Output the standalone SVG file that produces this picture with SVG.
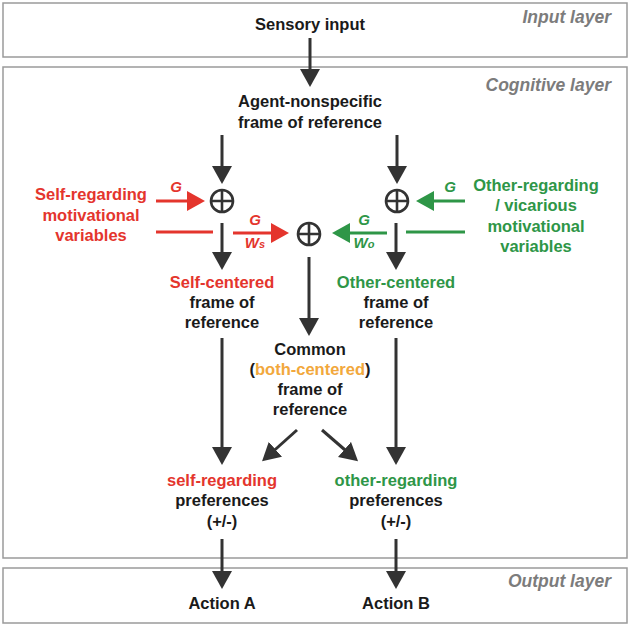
<svg xmlns="http://www.w3.org/2000/svg" width="630" height="626" viewBox="0 0 630 626">
<defs>
<style>
.layer{fill:#fff;stroke:#9a9a9a;stroke-width:1.5}
.lbl{font-family:"Liberation Sans",Arial,sans-serif;font-weight:bold;font-style:italic;font-size:17.5px;fill:#7c7c7c;text-anchor:end}
.t{font-family:"Liberation Sans",Arial,sans-serif;font-weight:bold;font-size:16.5px;fill:#1a1a1a;text-anchor:middle}
.red{fill:#e4352d}
.green{fill:#2e9647}
.orange{fill:#f2a83c}
.g{font-family:"Liberation Sans",Arial,sans-serif;font-weight:bold;font-style:italic;font-size:15px;text-anchor:middle}
.dk{stroke:#333;stroke-width:3;fill:none}
.rd{stroke:#e4352d;stroke-width:3;fill:none}
.gr{stroke:#2e9647;stroke-width:3;fill:none}
.sum{stroke:#333;stroke-width:2.6;fill:none}
</style>
<marker id="ahd" viewBox="0 0 18 20" refX="10" refY="10" markerWidth="18" markerHeight="20" markerUnits="userSpaceOnUse" orient="auto"><path d="M0,0 L18,10 L0,20 Z" fill="#333"/></marker>
<marker id="ahr" viewBox="0 0 18 20" refX="10" refY="10" markerWidth="18" markerHeight="20" markerUnits="userSpaceOnUse" orient="auto"><path d="M0,0 L18,10 L0,20 Z" fill="#e4352d"/></marker>
<marker id="ahg" viewBox="0 0 18 20" refX="10" refY="10" markerWidth="18" markerHeight="20" markerUnits="userSpaceOnUse" orient="auto"><path d="M0,0 L18,10 L0,20 Z" fill="#2e9647"/></marker>
</defs>
<rect width="630" height="626" fill="#fff"/>

<g id="layers">
<rect class="layer" x="3" y="3" width="624" height="54"/>
<rect class="layer" x="3" y="67" width="624" height="491"/>
<rect class="layer" x="3" y="568" width="624" height="55"/>
<text class="lbl" x="611" y="23">Input layer</text>
<text class="lbl" x="611" y="91">Cognitive layer</text>
<text class="lbl" x="611" y="587">Output layer</text>
</g>

<g id="connectors">
<line class="dk" x1="310" y1="38" x2="310" y2="79" marker-end="url(#ahd)"/>
<line class="dk" x1="222" y1="135" x2="222" y2="176" marker-end="url(#ahd)"/>
<line class="dk" x1="397" y1="135" x2="397" y2="176" marker-end="url(#ahd)"/>
<line class="rd" x1="156" y1="201" x2="197" y2="201" marker-end="url(#ahr)"/>
<line class="rd" x1="156" y1="232" x2="213" y2="232"/>
<line class="rd" x1="233" y1="233" x2="281" y2="233" marker-end="url(#ahr)"/>
<line class="gr" x1="465" y1="201" x2="424" y2="201" marker-end="url(#ahg)"/>
<line class="gr" x1="406" y1="232" x2="465" y2="232"/>
<line class="gr" x1="387" y1="233" x2="340" y2="233" marker-end="url(#ahg)"/>
<line class="dk" x1="222" y1="223" x2="222" y2="262" marker-end="url(#ahd)"/>
<line class="dk" x1="396" y1="223" x2="396" y2="262" marker-end="url(#ahd)"/>
<line class="dk" x1="309" y1="257" x2="309" y2="328" marker-end="url(#ahd)"/>
<line class="dk" x1="222" y1="338" x2="222" y2="457" marker-end="url(#ahd)"/>
<line class="dk" x1="396" y1="338" x2="396" y2="457" marker-end="url(#ahd)"/>
<line class="dk" x1="297" y1="430" x2="268" y2="456" marker-end="url(#ahd)"/>
<line class="dk" x1="322" y1="430" x2="352" y2="456" marker-end="url(#ahd)"/>
<line class="dk" x1="222" y1="539" x2="222" y2="581" marker-end="url(#ahd)"/>
<line class="dk" x1="396" y1="539" x2="396" y2="581" marker-end="url(#ahd)"/>
<text class="g red" x="176" y="192">G</text>
<text class="g red" x="255" y="225">G</text>
<text class="g red" x="255" y="248">W<tspan font-size="11">s</tspan></text>
<text class="g green" x="450" y="192">G</text>
<text class="g green" x="364" y="225">G</text>
<text class="g green" x="364" y="248">W<tspan font-size="11">o</tspan></text>
</g>

<g id="sensory"><text class="t" x="310" y="30">Sensory input</text></g>

<g id="agent-nonspecific">
<text class="t" x="310" y="107">Agent-nonspecific</text>
<text class="t" x="310" y="128">frame of reference</text>
</g>

<g id="sum-self"><circle class="sum" cx="222" cy="201" r="11"/><path class="sum" d="M211,201 H233 M222,190 V212"/></g>
<g id="sum-other"><circle class="sum" cx="397" cy="201" r="11"/><path class="sum" d="M386,201 H408 M397,190 V212"/></g>
<g id="sum-common"><circle class="sum" cx="309" cy="234" r="11"/><path class="sum" d="M298,234 H320 M309,223 V245"/></g>

<g id="self-motivation">
<text class="t red" x="91" y="200">Self-regarding</text>
<text class="t red" x="91" y="221">motivational</text>
<text class="t red" x="91" y="241">variables</text>
</g>

<g id="other-motivation">
<text class="t green" x="536" y="191">Other-regarding</text>
<text class="t green" x="536" y="211">/ vicarious</text>
<text class="t green" x="536" y="232">motivational</text>
<text class="t green" x="536" y="252">variables</text>
</g>

<g id="self-centered">
<text class="t red" x="222" y="288">Self-centered</text>
<text class="t" x="222" y="308">frame of</text>
<text class="t" x="222" y="328">reference</text>
</g>

<g id="other-centered">
<text class="t green" x="396" y="288">Other-centered</text>
<text class="t" x="396" y="308">frame of</text>
<text class="t" x="396" y="328">reference</text>
</g>

<g id="common">
<text class="t" x="310" y="355">Common</text>
<text class="t" x="310" y="375">(<tspan class="orange">both-centered</tspan>)</text>
<text class="t" x="310" y="395">frame of</text>
<text class="t" x="310" y="415">reference</text>
</g>

<g id="self-preferences">
<text class="t red" x="222" y="486">self-regarding</text>
<text class="t" x="222" y="506">preferences</text>
<text class="t" x="222" y="527">(+/-)</text>
</g>

<g id="other-preferences">
<text class="t green" x="396" y="486">other-regarding</text>
<text class="t" x="396" y="506">preferences</text>
<text class="t" x="396" y="527">(+/-)</text>
</g>

<g id="action-a"><text class="t" x="222" y="609">Action A</text></g>
<g id="action-b"><text class="t" x="396" y="609">Action B</text></g>
</svg>
